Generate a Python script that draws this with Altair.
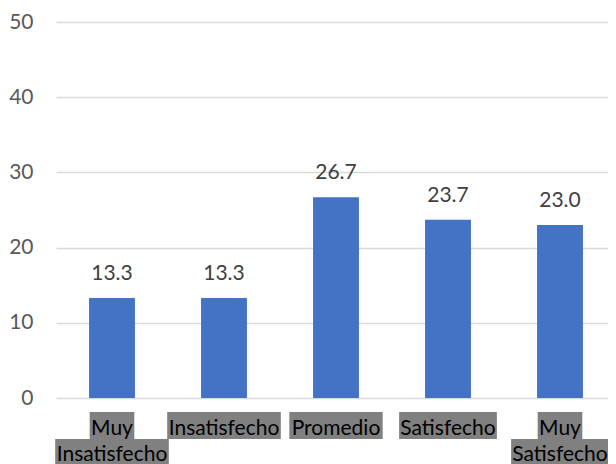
import altair as alt
import pandas as pd

categories = ["Muy Insatisfecho", "Insatisfecho", "Promedio", "Satisfecho", "Muy Satisfecho"]
values = [13.3, 13.3, 26.7, 23.7, 23.0]
# category label lines (as displayed, wrapped)
label_lines = [["Muy", "Insatisfecho"], ["Insatisfecho"], ["Promedio"], ["Satisfecho"], ["Muy", "Satisfecho"]]
y_ticks = [0, 10, 20, 30, 40, 50]

FONT = "Lato"
FS = 21
W, H = 552, 376     # visible plot area
XR = 560            # full category range

# approximate Lato advance widths (em) to size the highlight boxes from the text
CW = {" ": 0.193, "M": 0.87, "u": 0.555, "y": 0.51, "I": 0.28, "n": 0.555, "s": 0.43,
      "a": 0.505, "t": 0.35, "i": 0.24, "f": 0.33, "e": 0.52, "c": 0.46, "h": 0.555,
      "o": 0.565, "P": 0.59, "r": 0.37, "m": 0.84, "d": 0.565, "S": 0.51}


def text_w(s):
    return sum(CW.get(ch, 0.55) for ch in s) * FS + 4


bars = pd.DataFrame({"cat": categories, "val": values})
rows = []
for c, lines in zip(categories, label_lines):
    for i, t in enumerate(lines):
        rows.append({"cat": c, "line": i, "txt": t, "w": text_w(t)})
labels = pd.DataFrame(rows)

xs = alt.X("cat:N", sort=categories, title=None,
           scale=alt.Scale(paddingInner=0.59, paddingOuter=0.295, range=[0, XR]),
           axis=alt.Axis(labels=False, ticks=False, domain=False, grid=False))

base_bar = alt.Chart(bars).encode(x=xs)

bar = base_bar.mark_bar(color="#4472C4").encode(
    y=alt.Y("val:Q", title=None,
            scale=alt.Scale(domain=[0, 50]),
            axis=alt.Axis(values=y_ticks, grid=True, gridColor="#d9d9d9", gridWidth=1.3,
                          domain=False, ticks=False, labelPadding=23,
                          labelFont=FONT, labelFontSize=FS, labelColor="#595959"))
)

val_text = base_bar.mark_text(font=FONT, fontSize=FS, color="#404040",
                              baseline="alphabetic", dy=-18).encode(
    y="val:Q", text=alt.Text("val:Q", format=".1f")
)

box_top = [H + 14, H + 41]
box_bot = [H + 41, H + 68]
base_y = [H + 37, H + 63]

layers = [bar, val_text]
for i in range(2):
    sub = alt.Chart(labels).transform_filter(alt.datum.line == i)
    box = sub.mark_bar(color="#808080", width=alt.expr("datum.w")).encode(
        x=xs, y=alt.value(box_top[i]), y2=alt.value(box_bot[i])
    )
    txt = sub.mark_text(font=FONT, fontSize=FS, color="#000000",
                        baseline="alphabetic").encode(
        x=xs, y=alt.value(base_y[i]), text="txt:N"
    )
    layers += [box, txt]

chart = alt.layer(*layers).properties(
    width=W, height=H,
    autosize=alt.AutoSizeParams(type="none"),
    padding={"left": 48, "top": 14, "right": 0, "bottom": 66},
).configure_view(stroke=None)

chart.save("out.html", embed_options={"renderer": "svg", "actions": False})
